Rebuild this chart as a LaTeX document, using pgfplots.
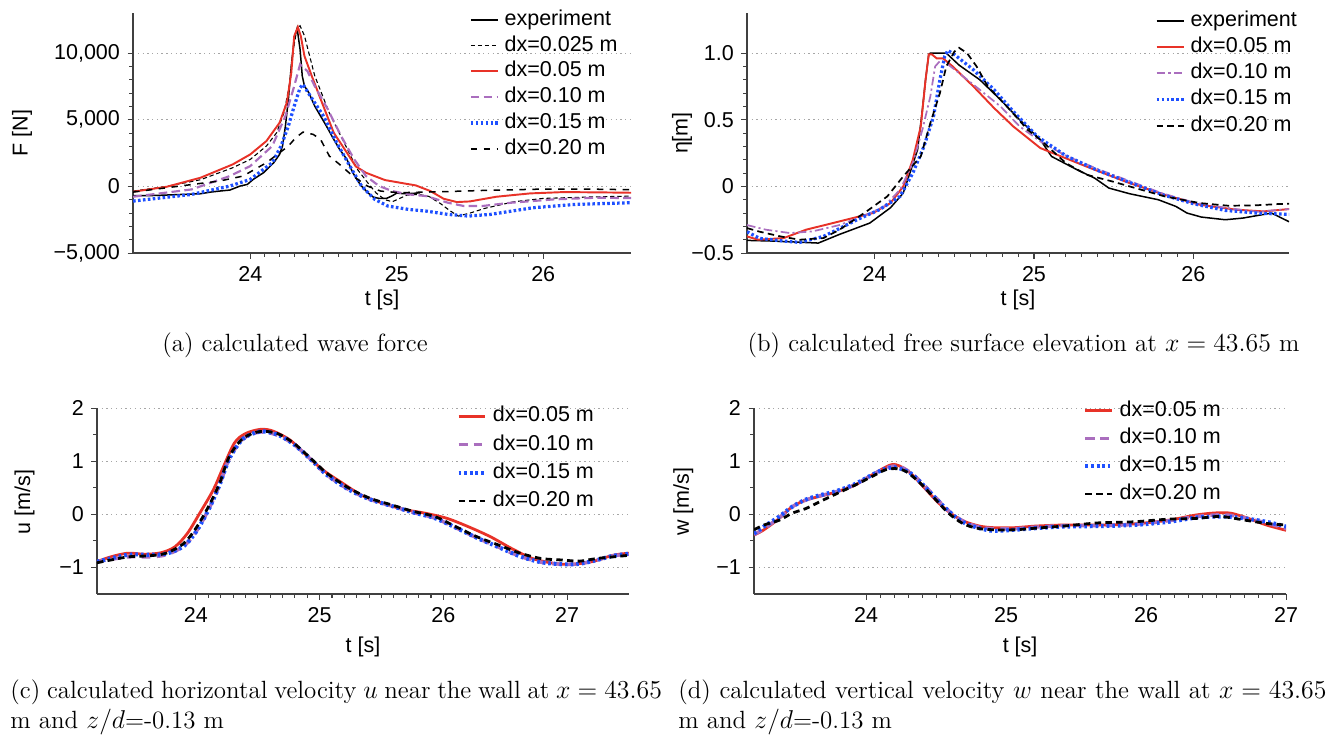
\documentclass[border=0pt]{standalone}
\usepackage{fontspec}
\newfontfamily\hel{Liberation Sans}
\usepackage{pgfplots}
\pgfplotsset{compat=1.18}
\definecolor{cred}{RGB}{232,50,40}
\definecolor{cblue}{RGB}{30,80,255}
\definecolor{cpurp}{RGB}{170,110,190}
\newcommand\axfont{\hel\fontsize{10}{12}\selectfont}
\newcommand\capfont{\fontsize{11.6}{14}\selectfont}

\pgfplotsset{
  panel/.style={
    scale only axis,
    axis x line*=bottom, axis y line*=left,
    axis line style={black!75, line width=0.6pt},
    tick style={black!75, line width=0.5pt},
    tick align=outside,
    major tick length=2.6pt, minor tick length=1.8pt,
    ymajorgrids,
    grid style={gray!70, dash pattern=on 0.6pt off 1.6pt, line width=0.5pt},
    tick label style={font=\axfont},
    label style={font=\axfont},
    scaled y ticks=false, scaled x ticks=false,
    xlabel={t [s]},
    legend style={draw=none, fill=none, font=\axfont, anchor=north west,
      nodes={inner sep=0pt, text height=7pt, text depth=2pt},
      /tikz/every odd column/.append style={column sep=2.5pt}},
    legend cell align=left,
    legend image code/.code={\draw[##1] plot coordinates {(0pt,0pt) (12.5pt,0pt)};},
  },
  sexp/.style={black, line width=0.7pt},
  s025/.style={black, line width=0.5pt, dash pattern=on 2pt off 1.3pt},
  s05/.style={cred, line width=0.9pt},
  s10a/.style={cpurp, line width=1pt, dash pattern=on 4pt off 2pt},
  s10b/.style={cpurp, line width=0.8pt, dash pattern=on 4pt off 1.5pt on 1pt off 1.5pt},
  s15/.style={cblue, line width=1.5pt, dash pattern=on 1.2pt off 1.1pt},
  s20/.style={black, line width=0.7pt, dash pattern=on 3pt off 3pt},
  s20b/.style={black, line width=0.8pt, dash pattern=on 3pt off 2pt},
  t05/.style={cred, line width=1.3pt, smooth, tension=0.5},
  t10/.style={cpurp, line width=1.6pt, dash pattern=on 4pt off 3pt, smooth, tension=0.5},
  t15/.style={cblue, line width=1.9pt, dash pattern=on 1.2pt off 1.4pt, smooth, tension=0.5},
  t20/.style={black, line width=1.3pt, dash pattern=on 3pt off 2pt, smooth, tension=0.5},
}

\begin{document}
\begin{tikzpicture}
\useasboundingbox (0,0) rectangle (619pt,341.4pt);

% (a) wave force
\begin{axis}[panel, at={(61.9pt,223.7pt)}, anchor=south west,
  width=231.6pt, height=111.6pt,
  xmin=23.2, xmax=26.6, ymin=-5000, ymax=13000,
  xtick={24,25,26}, xticklabels={24,25,26}, minor x tick num=9,
  ytick={-5000,0,5000,10000}, yticklabels={{−5,000},{0},{5,000},{10,000}}, minor y tick num=4,
  ylabel={F [N]},
  ylabel style={at={(axis description cs:-0.223,0.5)}, anchor=center},
  xlabel style={at={(axis description cs:0.5,-0.196)}, anchor=center},
  legend style={at={(axis description cs:0.661,1.032)}, row sep=3pt}]
\addplot[sexp] coordinates {(23.2,-700) (23.35,-680) (23.54,-600) (23.66,-550) (23.73,-425) (23.79,-350) (23.86,-275) (23.93,25) (23.98,150) (24.02,525) (24.09,1025) (24.16,1775) (24.2,2400) (24.22,3025) (24.24,4525) (24.26,6525) (24.28,9025) (24.30,11025) (24.32,11850) (24.34,10275) (24.355,8275) (24.37,7525) (24.40,7025) (24.44,6025) (24.48,5275) (24.52,4525) (24.57,3525) (24.61,2775) (24.66,2025) (24.70,1025) (24.75,150) (24.80,-450) (24.84,-800) (24.88,-900) (24.93,-900) (24.97,-700) (25.0,-500) (25.05,-550) (25.11,-525) (25.16,-475)};
\addplot[s025] coordinates {(23.2,-350) (23.43,0) (23.66,500) (23.88,1400) (24.0,2025) (24.11,3025) (24.18,4025) (24.23,5525) (24.27,7775) (24.29,10025) (24.32,11900) (24.34,12050) (24.37,11300) (24.44,8300) (24.54,5500) (24.64,3300) (24.73,1300) (24.80,300) (24.86,-500) (24.92,-1000) (24.97,-1150) (25.02,-900) (25.07,-650) (25.15,-600) (25.22,-750) (25.3,-1300) (25.36,-1800) (25.42,-2225) (25.5,-2000) (25.6,-1650) (25.8,-1150) (26.0,-900) (26.3,-800) (26.6,-725)};
\addplot[s05] coordinates {(23.2,-400) (23.43,-25) (23.66,650) (23.88,1650) (24.0,2400) (24.11,3400) (24.2,4775) (24.25,6300) (24.28,8525) (24.30,11275) (24.325,11950) (24.345,11275) (24.37,9775) (24.42,8275) (24.49,6275) (24.57,4025) (24.66,2525) (24.72,1500) (24.79,1025) (24.92,475) (25.05,225) (25.13,75) (25.23,-350) (25.32,-925) (25.41,-1175) (25.5,-1125) (25.68,-775) (25.91,-525) (26.14,-425) (26.4,-450) (26.6,-475)};
\addplot[s10a] coordinates {(23.2,-775) (23.6,-225) (23.86,775) (24.0,1525) (24.15,3025) (24.24,5275) (24.30,7525) (24.34,9150) (24.39,8650) (24.44,7525) (24.53,5775) (24.62,3775) (24.71,2025) (24.79,775) (24.88,25) (24.97,-350) (25.08,-600) (25.2,-725) (25.35,-1225) (25.46,-1475) (25.58,-1475) (25.78,-1225) (26.07,-975) (26.36,-850) (26.6,-875)};
\addplot[s15] coordinates {(23.2,-1100) (23.6,-600) (23.86,25) (24.0,525) (24.15,1775) (24.21,3025) (24.26,4525) (24.30,6025) (24.34,7400) (24.36,7650) (24.41,6775) (24.5,5275) (24.59,3275) (24.68,1525) (24.76,25) (24.85,-975) (24.94,-1475) (25.08,-1725) (25.2,-1850) (25.35,-2100) (25.49,-2225) (25.64,-2100) (25.93,-1600) (26.22,-1350) (26.6,-1225)};
\addplot[s20] coordinates {(23.2,-425) (23.43,-100) (23.66,225) (23.79,400) (23.95,775) (24.11,1775) (24.26,3025) (24.31,3650) (24.36,4075) (24.43,3900) (24.48,3525) (24.54,2275) (24.61,1650) (24.70,775) (24.80,25) (24.89,-350) (25.02,-475) (25.1,-450) (25.3,-400) (25.6,-300) (26.0,-200) (26.3,-200) (26.6,-250)};
\legend{experiment, dx=0.025 m, dx=0.05 m, dx=0.10 m, dx=0.15 m, dx=0.20 m}
\end{axis}

% (b) free surface elevation
\begin{axis}[panel, at={(347.4pt,223.7pt)}, anchor=south west,
  width=252.1pt, height=111.6pt,
  xmin=23.2, xmax=26.6, ymin=-0.5, ymax=1.3,
  xtick={24,25,26}, xticklabels={24,25,26}, minor x tick num=9,
  ytick={-0.5,0,0.5,1}, yticklabels={{−0.5},{0},{0.5},{1.0}}, minor y tick num=4,
  ylabel={η[m]},
  ylabel style={at={(axis description cs:-0.12,0.5)}, anchor=center},
  xlabel style={at={(axis description cs:0.5,-0.196)}, anchor=center},
  legend style={at={(axis description cs:0.74,1.028)}, row sep=3.2pt}]
\addplot[sexp] coordinates {(23.2,-0.405) (23.365,-0.41) (23.647,-0.425) (23.78,-0.36) (23.97,-0.275) (24.10,-0.16) (24.18,-0.05) (24.27,0.275) (24.30,0.575) (24.32,0.8) (24.34,0.99) (24.35,1.0) (24.45,1.0) (24.53,0.91) (24.66,0.80) (24.79,0.65) (24.91,0.5) (25.04,0.35) (25.11,0.225) (25.27,0.125) (25.38,0.0625) (25.47,-0.0125) (25.60,-0.055) (25.78,-0.10) (25.89,-0.15) (25.96,-0.20) (26.05,-0.23) (26.20,-0.25) (26.31,-0.2375) (26.43,-0.2125) (26.49,-0.2) (26.6,-0.265)};
\addplot[s05] coordinates {(23.2,-0.375) (23.27,-0.4) (23.43,-0.3875) (23.57,-0.325) (23.78,-0.2625) (23.99,-0.2) (24.10,-0.125) (24.18,0) (24.24,0.2) (24.29,0.45) (24.32,0.8) (24.34,0.99) (24.36,0.99) (24.39,0.96) (24.43,0.96) (24.49,0.9) (24.62,0.75) (24.75,0.5875) (24.87,0.45) (25.04,0.2875) (25.16,0.23) (25.38,0.125) (25.60,0.025) (25.82,-0.0625) (26.04,-0.1375) (26.27,-0.175) (26.44,-0.1875) (26.6,-0.17)};
\addplot[s10b] coordinates {(23.2,-0.29) (23.32,-0.325) (23.47,-0.35) (23.61,-0.3375) (23.78,-0.29) (23.95,-0.2125) (24.06,-0.15) (24.16,-0.025) (24.24,0.175) (24.30,0.425) (24.35,0.675) (24.38,0.9) (24.41,0.94) (24.45,0.925) (24.53,0.85) (24.66,0.725) (24.79,0.6) (24.91,0.45) (25.04,0.3375) (25.2,0.23) (25.4,0.13) (25.6,0.04) (25.8,-0.05) (26.0,-0.12) (26.2,-0.16) (26.4,-0.19) (26.6,-0.17)};
\addplot[s15] coordinates {(23.2,-0.34) (23.28,-0.39) (23.43,-0.41) (23.53,-0.42) (23.68,-0.375) (23.89,-0.25) (24.03,-0.175) (24.16,-0.075) (24.24,0.1) (24.31,0.3) (24.37,0.525) (24.41,0.8) (24.44,0.975) (24.46,1.02) (24.50,0.99) (24.62,0.875) (24.75,0.725) (24.87,0.5625) (25.02,0.375) (25.2,0.23) (25.4,0.12) (25.6,0.03) (25.8,-0.06) (26.0,-0.13) (26.2,-0.18) (26.4,-0.2) (26.6,-0.21)};
\addplot[s20b] coordinates {(23.2,-0.3125) (23.28,-0.34) (23.41,-0.375) (23.53,-0.4) (23.68,-0.3875) (23.78,-0.325) (23.95,-0.1875) (24.08,-0.075) (24.18,0.075) (24.29,0.225) (24.35,0.475) (24.41,0.7) (24.45,0.9) (24.50,1.01) (24.53,1.04) (24.58,1.0) (24.64,0.9) (24.71,0.75) (24.83,0.6) (24.96,0.425) (25.04,0.35) (25.2,0.175) (25.33,0.0875) (25.49,0.0375) (25.60,0) (25.82,-0.075) (26.04,-0.125) (26.22,-0.145) (26.38,-0.1425) (26.53,-0.1325) (26.6,-0.13)};
\legend{experiment, dx=0.05 m, dx=0.10 m, dx=0.15 m, dx=0.20 m}
\end{axis}

% (c) horizontal velocity
\begin{axis}[panel, at={(45.1pt,65.1pt)}, anchor=south west,
  width=247.4pt, height=86.5pt,
  xmin=23.2, xmax=27.5, ymin=-1.5, ymax=2,
  xtick={24,25,26,27}, xticklabels={24,25,26,27}, minor x tick num=9,
  ytick={-1,0,1,2}, yticklabels={{−1},{0},{1},{2}}, minor y tick num=1,
  ylabel={u [m/s]},
  ylabel style={at={(axis description cs:-0.136,0.496)}, anchor=center},
  xlabel style={at={(axis description cs:0.5,-0.282)}, anchor=center},
  legend style={at={(axis description cs:0.663,1.032)}, row sep=4.1pt}]
\addplot[t05] coordinates {(23.2,-0.89) (23.31,-0.80) (23.45,-0.73) (23.59,-0.75) (23.72,-0.72) (23.83,-0.61) (23.93,-0.36) (24.03,0.02) (24.14,0.46) (24.21,0.83) (24.31,1.34) (24.40,1.52) (24.52,1.6) (24.62,1.57) (24.76,1.40) (24.89,1.12) (25.03,0.83) (25.17,0.61) (25.34,0.36) (25.51,0.21) (25.68,0.094) (25.86,0.019) (26.03,-0.075) (26.20,-0.23) (26.38,-0.42) (26.55,-0.64) (26.72,-0.83) (26.89,-0.92) (27.03,-0.94) (27.20,-0.89) (27.37,-0.77) (27.5,-0.73)};
\addplot[t10] coordinates {(23.2,-0.89) (23.45,-0.80) (23.62,-0.80) (23.76,-0.76) (23.9,-0.6) (24.0,-0.33) (24.1,0.08) (24.19,0.55) (24.27,1.05) (24.38,1.42) (24.52,1.55) (24.66,1.49) (24.79,1.32) (24.93,1.03) (25.06,0.74) (25.24,0.46) (25.41,0.28) (25.58,0.16) (25.75,0.04) (25.93,-0.07) (26.1,-0.25) (26.27,-0.44) (26.45,-0.62) (26.62,-0.79) (26.79,-0.9) (26.97,-0.94) (27.1,-0.93) (27.24,-0.86) (27.37,-0.78) (27.5,-0.75)};
\addplot[t15] coordinates {(23.2,-0.89) (23.45,-0.76) (23.62,-0.76) (23.76,-0.74) (23.9,-0.6) (24.0,-0.33) (24.1,0.08) (24.19,0.55) (24.27,1.05) (24.38,1.42) (24.52,1.56) (24.66,1.5) (24.79,1.32) (24.93,1.03) (25.06,0.74) (25.24,0.46) (25.41,0.28) (25.58,0.16) (25.75,0.04) (25.93,-0.07) (26.1,-0.25) (26.27,-0.44) (26.45,-0.62) (26.62,-0.79) (26.79,-0.9) (26.97,-0.94) (27.1,-0.93) (27.24,-0.86) (27.37,-0.78) (27.5,-0.74)};
\addplot[t20] coordinates {(23.2,-0.91) (23.45,-0.80) (23.62,-0.78) (23.76,-0.73) (23.90,-0.55) (24.0,-0.26) (24.10,0.14) (24.19,0.58) (24.27,1.09) (24.38,1.43) (24.52,1.56) (24.66,1.52) (24.79,1.34) (24.93,1.05) (25.06,0.77) (25.24,0.49) (25.41,0.30) (25.58,0.18) (25.75,0.06) (25.93,-0.04) (26.10,-0.23) (26.27,-0.42) (26.45,-0.58) (26.62,-0.73) (26.79,-0.83) (26.97,-0.86) (27.10,-0.88) (27.24,-0.83) (27.37,-0.80) (27.5,-0.77)};
\legend{dx=0.05 m, dx=0.10 m, dx=0.15 m, dx=0.20 m}
\end{axis}

% (d) vertical velocity
\begin{axis}[panel, at={(350.7pt,65.1pt)}, anchor=south west,
  width=247.4pt, height=86.5pt,
  xmin=23.2, xmax=27, ymin=-1.5, ymax=2,
  xtick={24,25,26,27}, xticklabels={24,25,26,27}, minor x tick num=9,
  ytick={-1,0,1,2}, yticklabels={{−1},{0},{1},{2}}, minor y tick num=1,
  ylabel={w [m/s]},
  ylabel style={at={(axis description cs:-0.133,0.496)}, anchor=center},
  xlabel style={at={(axis description cs:0.5,-0.282)}, anchor=center},
  legend style={at={(axis description cs:0.606,1.063)}, row sep=3.9pt}]
\addplot[t05] coordinates {(23.2,-0.39) (23.27,-0.29) (23.38,-0.075) (23.47,0.14) (23.57,0.27) (23.67,0.34) (23.79,0.425) (23.92,0.55) (24.04,0.74) (24.14,0.89) (24.19,0.94) (24.24,0.91) (24.32,0.77) (24.42,0.49) (24.52,0.21) (24.62,-0.01) (24.71,-0.14) (24.81,-0.22) (24.91,-0.25) (25.06,-0.25) (25.21,-0.22) (25.41,-0.2) (25.66,-0.2) (25.91,-0.18) (26.16,-0.11) (26.36,-0.01) (26.51,0.03) (26.61,0.02) (26.73,-0.075) (26.86,-0.2) (27.0,-0.3)};
\addplot[t10] coordinates {(23.2,-0.38) (23.27,-0.27) (23.38,-0.06) (23.47,0.14) (23.57,0.27) (23.67,0.35) (23.79,0.43) (23.92,0.56) (24.04,0.74) (24.14,0.87) (24.20,0.91) (24.26,0.88) (24.34,0.74) (24.44,0.48) (24.54,0.2) (24.62,0.0) (24.71,-0.15) (24.81,-0.24) (24.91,-0.27) (25.06,-0.27) (25.21,-0.24) (25.41,-0.21) (25.66,-0.21) (25.91,-0.19) (26.16,-0.12) (26.36,-0.04) (26.51,-0.01) (26.61,-0.02) (26.73,-0.08) (26.86,-0.16) (27.0,-0.27)};
\addplot[t15] coordinates {(23.2,-0.36) (23.27,-0.23) (23.38,-0.04) (23.47,0.14) (23.57,0.28) (23.67,0.36) (23.79,0.44) (23.92,0.57) (24.04,0.74) (24.14,0.86) (24.22,0.88) (24.32,0.77) (24.42,0.52) (24.52,0.24) (24.62,-0.01) (24.71,-0.17) (24.81,-0.26) (24.91,-0.31) (25.06,-0.29) (25.21,-0.26) (25.41,-0.23) (25.66,-0.22) (25.91,-0.2) (26.16,-0.14) (26.36,-0.06) (26.51,-0.04) (26.66,-0.06) (26.86,-0.14) (27.0,-0.23)};
\addplot[t20] coordinates {(23.2,-0.29) (23.27,-0.2) (23.38,-0.11) (23.47,0.02) (23.57,0.11) (23.67,0.24) (23.79,0.39) (23.92,0.55) (24.04,0.71) (24.14,0.84) (24.22,0.86) (24.29,0.8) (24.39,0.58) (24.49,0.3) (24.59,0.02) (24.69,-0.17) (24.79,-0.26) (24.91,-0.29) (25.06,-0.29) (25.21,-0.26) (25.41,-0.22) (25.66,-0.16) (25.91,-0.14) (26.16,-0.09) (26.36,-0.075) (26.53,-0.04) (26.71,-0.11) (26.86,-0.17) (27.0,-0.2)};
\legend{dx=0.05 m, dx=0.10 m, dx=0.15 m, dx=0.20 m}
\end{axis}

% captions
\node[font=\capfont, anchor=base, inner sep=0pt] at (137.2pt,177.7pt) {(a) calculated wave force};
\node[font=\capfont, anchor=base, inner sep=0pt] at (476pt,177.7pt) {(b) calculated free surface elevation at $x=43.65$ m};
\node[font=\capfont, anchor=base west, inner sep=0pt] at (4.65pt,16.5pt) {\hbox to 303pt{(c) calculated horizontal velocity $u$ near the wall at $x=43.65$}};
\node[font=\capfont, anchor=base west, inner sep=0pt] at (4.65pt,2.6pt) {m and $z/d$=-0.13 m};
\node[font=\capfont, anchor=base west, inner sep=0pt] at (315.3pt,16.5pt) {\hbox to 301.4pt{(d) calculated vertical velocity $w$ near the wall at $x=43.65$}};
\node[font=\capfont, anchor=base west, inner sep=0pt] at (315.3pt,2.6pt) {m and $z/d$=-0.13 m};
\end{tikzpicture}
\end{document}
